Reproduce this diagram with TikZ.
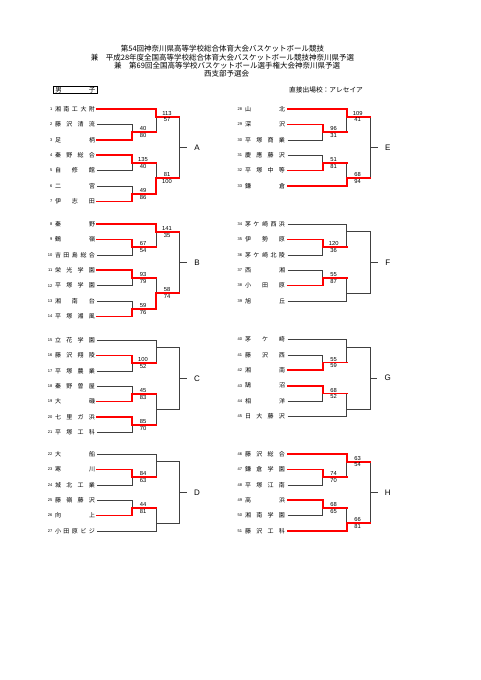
\documentclass[tikz,border=0pt]{standalone}
\usepackage{fontspec}
\setmainfont{Noto Sans CJK JP}
\newfontfamily\numfont{Liberation Sans}
\newcommand\tname[1]{\makebox[40pt][s]{\spaceskip=0pt plus 1fil\relax#1}}

\tikzset{
  bline/.style={draw=black!75, line width=0.6pt},
  win/.style={draw=red, line width=1.7pt, line cap=rect},
  team/.style={anchor=east, inner sep=0pt, font=\fontsize{6}{6}\selectfont},
  rownum/.style={anchor=east, inner sep=0pt, font=\numfont\fontsize{4}{4}\selectfont},
  score/.style={inner sep=0.5pt, font=\numfont\fontsize{5.8}{6}\selectfont},
  blocklbl/.style={inner sep=0pt, font=\numfont\fontsize{8}{8}\selectfont},
  title/.style={anchor=west, inner sep=0pt, font=\fontsize{7.5}{8}\selectfont},
}

\begin{document}
\begin{tikzpicture}[x=1pt, y=-1pt]
    \def\rowp{15.4}
    \def\hh{7.7}
    \def\xL{97}
    \def\xR{287.7}
    \def\da{35}
    \def\db{59}
    \def\dc{82.5}
    \fill[white] (0,0) rectangle (481,680);
    \useasboundingbox (0,0) rectangle (481,680);
    % heading
    \node[title] (head1) at (120.7,49) {第54回神奈川県高等学校総合体育大会バスケットボール競技};
    \node[title] (head2) at (90.7,57.5) {兼　平成28年度全国高等学校総合体育大会バスケットボール競技神奈川県予選};
    \node[title] (head3) at (114,65.8) {兼　第69回全国高等学校バスケットボール選手権大会神奈川県予選};
    \node[title] (head4) at (204,74) {西支部予選会};
    \node[draw, line width=0.7pt, inner xsep=2pt, inner ysep=1pt, anchor=west, font=\fontsize{6.5}{6.5}\selectfont] (sex) at (53,90) {\tname{男 子}};
    \node[title, font=\fontsize{6.7}{7}\selectfont] (direct) at (289,90) {直接出場校：アレセイア};
    % teams
    \foreach \k/\name [count=\i from 0] in {1/湘 南 工 大 附, 2/藤 沢 清 流, 3/足 柄, 4/秦 野 総 合, 5/自 修 館, 6/二 宮, 7/伊 志 田}{
        \coordinate (t\k) at (\xL, 109+\i*\rowp);
        \node[team] (n\k) at ([xshift=-1.8]t\k) {\tname{\name}};
        \node[rownum] (r\k) at ([xshift=-44.5]t\k) {\k};
    }
    \foreach \k/\name [count=\i from 0] in {8/秦 野, 9/鶴 嶺, 10/吉 田 島 総 合, 11/栄 光 学 園, 12/平 塚 学 園, 13/湘 南 台, 14/平 塚 湘 風}{
        \coordinate (t\k) at (\xL, 224+\i*\rowp);
        \node[team] (n\k) at ([xshift=-1.8]t\k) {\tname{\name}};
        \node[rownum] (r\k) at ([xshift=-44.5]t\k) {\k};
    }
    \foreach \k/\name [count=\i from 0] in {15/立 花 学 園, 16/藤 沢 翔 陵, 17/平 塚 農 業, 18/秦 野 曽 屋, 19/大 磯, 20/七 里 ガ 浜, 21/平 塚 工 科}{
        \coordinate (t\k) at (\xL, 340+\i*\rowp);
        \node[team] (n\k) at ([xshift=-1.8]t\k) {\tname{\name}};
        \node[rownum] (r\k) at ([xshift=-44.5]t\k) {\k};
    }
    \foreach \k/\name [count=\i from 0] in {22/大 船, 23/寒 川, 24/城 北 工 業, 25/藤 嶺 藤 沢, 26/向 上, 27/小 田 原 ビ ジ}{
        \coordinate (t\k) at (\xL, 454+\i*\rowp);
        \node[team] (n\k) at ([xshift=-1.8]t\k) {\tname{\name}};
        \node[rownum] (r\k) at ([xshift=-44.5]t\k) {\k};
    }
    \foreach \k/\name [count=\i from 0] in {28/山 北, 29/深 沢, 30/平 塚 商 業, 31/慶 應 藤 沢, 32/平 塚 中 等, 33/鎌 倉}{
        \coordinate (t\k) at (\xR, 109+\i*\rowp);
        \node[team] (n\k) at ([xshift=-2.5]t\k) {\tname{\name}};
        \node[rownum] (r\k) at ([xshift=-45.5]t\k) {\k};
    }
    \foreach \k/\name [count=\i from 0] in {34/茅 ケ 崎 西 浜, 35/伊 勢 原, 36/茅 ケ 崎 北 陵, 37/西 湘, 38/小 田 原, 39/旭 丘}{
        \coordinate (t\k) at (\xR, 224+\i*\rowp);
        \node[team] (n\k) at ([xshift=-2.5]t\k) {\tname{\name}};
        \node[rownum] (r\k) at ([xshift=-45.5]t\k) {\k};
    }
    \foreach \k/\name [count=\i from 0] in {40/茅 ケ 崎, 41/藤 沢 西, 42/湘 南, 43/鵠 沼, 44/相 洋, 45/日 大 藤 沢}{
        \coordinate (t\k) at (\xR, 339.5+\i*\rowp);
        \node[team] (n\k) at ([xshift=-2.5]t\k) {\tname{\name}};
        \node[rownum] (r\k) at ([xshift=-45.5]t\k) {\k};
    }
    \foreach \k/\name [count=\i from 0] in {46/藤 沢 総 合, 47/鎌 倉 学 園, 48/平 塚 江 南, 49/高 浜, 50/湘 南 学 園, 51/藤 沢 工 科}{
        \coordinate (t\k) at (\xR, 454+\i*\rowp);
        \node[team] (n\k) at ([xshift=-2.5]t\k) {\tname{\name}};
        \node[rownum] (r\k) at ([xshift=-45.5]t\k) {\k};
    }
    % match points and block labels
    \foreach \blk/\xs/\ys in {A/\xL/109, B/\xL/224, C/\xL/340, D/\xL/454, E/\xR/109, F/\xR/224, G/\xR/339.5, H/\xR/454}{
        \coordinate (\blk p) at (\xs+\da, \ys+3*\hh);
        \coordinate (\blk q) at (\xs+\da, \ys+7*\hh);
        \coordinate (\blk r) at (\xs+\da, \ys+11*\hh);
        \coordinate (\blk 1) at (\xs+\db, \ys+\hh);
        \coordinate (\blk 2) at (\xs+\db, \ys+9*\hh);
        \coordinate (\blk f) at (\xs+\dc, \ys+5*\hh);
        \node[blocklbl] (\blk l) at (\xs+100, \ys+5*\hh) {\blk};
        \draw[bline, shorten >=7pt] (\blk f) -- (\blk l);
    }
    % bracket lines
    \foreach \a/\b in {t2/Ap, t3/Ap, t4/Aq, t5/Aq, t6/Ar, t7/Ar, t1/A1, Ap/A1, Aq/A2, Ar/A2, A1/Af, A2/Af,
        t9/Bp, t10/Bp, t11/Bq, t12/Bq, t13/Br, t14/Br, t8/B1, Bp/B1, Bq/B2, Br/B2, B1/Bf, B2/Bf,
        t16/Cp, t17/Cp, t18/Cq, t19/Cq, t20/Cr, t21/Cr, t15/C1, Cp/C1, Cq/C2, Cr/C2, C1/Cf, C2/Cf,
        t23/Dp, t24/Dp, t25/Dq, t26/Dq, t22/D1, Dp/D1, Dq/D2, t27/D2, D1/Df, D2/Df,
        t29/Ep, t30/Ep, t31/Eq, t32/Eq, t28/E1, Ep/E1, Eq/E2, t33/E2, E1/Ef, E2/Ef,
        t35/Fp, t36/Fp, t37/Fq, t38/Fq, t34/F1, Fp/F1, Fq/F2, t39/F2, F1/Ff, F2/Ff,
        t41/Gp, t42/Gp, t43/Gq, t44/Gq, t40/G1, Gp/G1, Gq/G2, t45/G2, G1/Gf, G2/Gf,
        t47/Hp, t48/Hp, t49/Hq, t50/Hq, t46/H1, Hp/H1, Hq/H2, t51/H2, H1/Hf, H2/Hf}
        \draw[bline] (\a) -| (\b);
    % winners
    \foreach \a/\b in {t3/Ap, t4/Aq, t7/Ar, t1/A1, Ar/A2, t9/Bp, t11/Bq, t14/Br, t8/B1, Br/B2,
        t16/Cp, t19/Cq, t20/Cr, t23/Dp, t26/Dq, t29/Ep, t32/Eq, t28/E1, t33/E2,
        t35/Fp, t38/Fq, t42/Gp, t43/Gq, t47/Hp, t49/Hq, t46/H1, t51/H2}
        \draw[win] (\a) -| (\b);
    \foreach \a/\b in {Ap/A1, Aq/A2, A1/Af, A2/Af, Bp/B1, Bq/B2, B1/Bf, B2/Bf,
        Cp/C1, Cq/C2, Cr/C2, Dp/D1, Dq/D2, Ep/E1, Eq/E2, E1/Ef, E2/Ef,
        Fp/F1, Fq/F2, Gp/G1, Gq/G2, Hp/H1, Hq/H2, H1/Hf, H2/Hf}
        \draw[win] (\a) -- (\a -| \b);
    % scores
    \foreach \m/\p/\q in {Ap/40/80, Aq/135/40, Ar/49/86, A1/113/57, A2/81/100,
        Bp/67/54, Bq/93/79, Br/59/76, B1/141/35, B2/58/74,
        Cp/100/52, Cq/45/83, Cr/85/70, Dp/84/63, Dq/44/81,
        Ep/96/31, Eq/51/81, E1/109/41, E2/68/94, Fp/120/36, Fq/55/87,
        Gp/55/59, Gq/68/52, Hp/74/70, Hq/68/65, H1/63/54, H2/66/81}{
        \node[score, anchor=south] (\m-u) at ([xshift=11, yshift=0.6]\m) {\p};
        \node[score, anchor=north] (\m-d) at ([xshift=11, yshift=-0.6]\m) {\q};
    }
\end{tikzpicture}
\end{document}
